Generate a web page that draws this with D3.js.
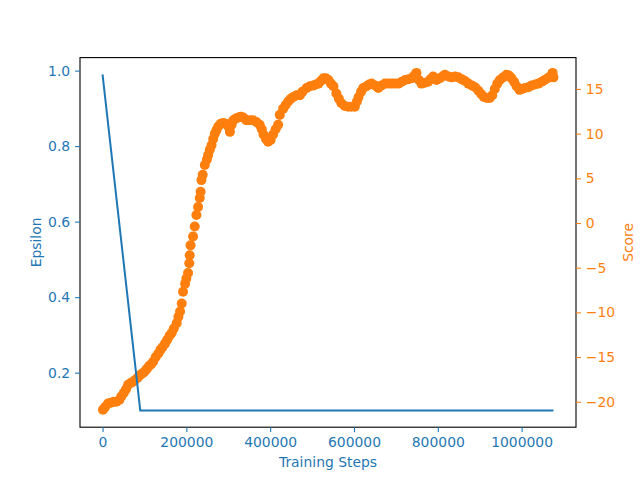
<!DOCTYPE html>
<html lang="en">
<head>
<meta charset="UTF-8">
<title>Epsilon and Score</title>
<script src="https://cdn.jsdelivr.net/npm/d3@7"></script>
<style>
    body { margin: 0; background: #fff; }
    text { font-family: "DejaVu Sans", sans-serif; }
</style>
</head>
<body>
<svg id="chart" width="640" height="480"></svg>
<script>
// epsilon schedule: [step, epsilon]
var epsilonSteps = [0, 90000, 1076000];
var epsilonValues = [0.99, 0.1, 0.1];

// running score: [step, score]
var scorePoints = [
    [1000, -20.9], [6000, -20.6], [13000, -20.2], [20000, -20.1], [27000, -20.0], [33000, -20.0],
    [40000, -19.8], [45000, -19.4], [51000, -19.0], [56000, -18.6], [61000, -18.1], [67000, -17.9],
    [72000, -17.8], [77000, -17.6], [84000, -17.3], [90000, -17.0], [96000, -16.8], [101000, -16.6],
    [106000, -16.3], [111000, -16.0], [116000, -15.8], [121000, -15.5], [127000, -15.0], [133000, -14.6],
    [138000, -14.2], [143000, -13.9], [149000, -13.5], [154000, -13.1], [160000, -12.6], [165000, -12.3],
    [170000, -11.8], [177000, -11.2], [181000, -10.5], [185000, -9.9], [189000, -9.0], [192000, -7.7],
    [197000, -6.8], [200000, -6.2], [204000, -5.6], [207000, -4.5], [208000, -3.6], [210000, -2.5],
    [216000, -1.5], [220000, -0.4], [224000, 0.9], [228000, 1.8], [232000, 2.8], [234000, 3.5],
    [236000, 4.8], [239000, 5.4], [244000, 6.5], [249000, 7.1], [252000, 7.6], [256000, 8.2],
    [260000, 8.7], [264000, 9.4], [268000, 10.0], [272000, 10.4], [276000, 10.8], [282000, 11.1],
    [288000, 11.2], [294000, 11.1], [300000, 10.8], [304000, 10.2], [308000, 11.0], [312000, 11.5],
    [318000, 11.7], [324000, 11.8], [330000, 11.9], [336000, 11.8], [343000, 11.5], [351000, 11.5],
    [359000, 11.5], [367000, 11.3], [375000, 11.0], [380000, 10.5], [384000, 9.9], [390000, 9.4],
    [395000, 9.1], [401000, 9.3], [407000, 9.9], [413000, 10.5], [419000, 11.0], [423000, 12.1],
    [431000, 12.8], [437000, 13.2], [443000, 13.6], [449000, 13.9], [455000, 14.1], [463000, 14.3],
    [471000, 14.3], [477000, 14.7], [487000, 15.1], [495000, 15.3], [503000, 15.4], [509000, 15.5],
    [515000, 15.6], [521000, 15.9], [527000, 16.2], [533000, 16.2], [539000, 16.0], [545000, 15.6],
    [551000, 15.3], [558000, 14.5], [564000, 13.9], [570000, 13.4], [578000, 13.1], [586000, 13.0],
    [594000, 13.0], [602000, 13.0], [607000, 13.6], [611000, 14.1], [617000, 14.7], [622000, 15.1],
    [630000, 15.3], [636000, 15.5], [642000, 15.6], [650000, 15.4], [658000, 15.1], [666000, 15.4],
    [674000, 15.6], [682000, 15.6], [690000, 15.6], [698000, 15.6], [706000, 15.6], [714000, 15.8],
    [722000, 16.0], [730000, 16.1], [738000, 16.2], [744000, 16.5], [749000, 16.8], [755000, 16.0],
    [761000, 15.6], [769000, 15.7], [777000, 15.8], [783000, 16.1], [789000, 16.4], [797000, 16.0],
    [805000, 16.2], [811000, 16.4], [817000, 16.6], [825000, 16.4], [833000, 16.3], [841000, 16.4],
    [849000, 16.3], [857000, 16.1], [865000, 15.9], [873000, 15.6], [881000, 15.4], [889000, 15.2],
    [897000, 14.8], [904000, 14.4], [910000, 14.1], [917000, 14.0], [924000, 14.0], [930000, 14.3],
    [936000, 15.0], [942000, 15.6], [948000, 16.0], [956000, 16.3], [964000, 16.6], [970000, 16.5],
    [976000, 16.2], [982000, 15.8], [988000, 15.3], [995000, 14.9], [1001000, 15.0], [1008000, 15.1],
    [1016000, 15.2], [1024000, 15.4], [1032000, 15.5], [1040000, 15.6], [1048000, 15.8], [1055000, 16.0],
    [1062000, 16.2], [1068000, 16.4], [1074000, 16.8], [1076000, 16.3]
];

var xTicks = [0, 200000, 400000, 600000, 800000, 1000000];
var epsTicks = [0.2, 0.4, 0.6, 0.8, 1.0];
var scoreTicks = [-20, -15, -10, -5, 0, 5, 10, 15];

var blue = "#1f77b4", orange = "#ff7f0e";
var plotLeft = 80, plotRight = 576, plotTop = 57.6, plotBottom = 427.2;

var svg = d3.select("#chart");

// matplotlib style 5% margins
function padded(lo, hi) {
    var m = (hi - lo) * 0.05;
    return [lo - m, hi + m];
}

var x = d3.scaleLinear().domain(padded(0, 1076000)).range([plotLeft, plotRight]);
var yEps = d3.scaleLinear().domain(padded(0.1, 0.99)).range([plotBottom, plotTop]);
var yScore = d3.scaleLinear().domain(padded(-20.97, 16.63)).range([plotBottom, plotTop]);

// score dots (twin axis)
svg.append("g")
    .selectAll("circle")
    .data(scorePoints)
    .enter()
    .append("circle")
    .attr("cx", function(d) { return x(d[0]); })
    .attr("cy", function(d) { return yScore(d[1]); })
    .attr("r", 5)
    .attr("fill", orange);

// epsilon line
var line = d3.line()
    .x(function(d, i) { return x(epsilonSteps[i]); })
    .y(function(d) { return yEps(d); });

svg.append("path")
    .datum(epsilonValues)
    .attr("d", line)
    .attr("fill", "none")
    .attr("stroke", blue)
    .attr("stroke-width", 2);

// frame
svg.append("rect")
    .attr("x", plotLeft).attr("y", plotTop)
    .attr("width", plotRight - plotLeft).attr("height", plotBottom - plotTop)
    .attr("fill", "none").attr("stroke", "#000").attr("stroke-width", 1.1);

function styleAxis(g, color) {
    g.select(".domain").remove();
    g.selectAll(".tick line").attr("stroke", color).attr("stroke-width", 1.1);
    g.selectAll(".tick text").attr("fill", color)
        .style("font-family", "DejaVu Sans").style("font-size", "13.9px");
}

svg.append("g")
    .attr("transform", "translate(0," + plotBottom + ")")
    .call(d3.axisBottom(x).tickValues(xTicks).tickFormat(d3.format("d")).tickSize(4.9).tickPadding(4.9))
    .call(styleAxis, blue);

svg.append("g")
    .attr("transform", "translate(" + plotLeft + ",0)")
    .call(d3.axisLeft(yEps).tickValues(epsTicks).tickFormat(d3.format(".1f")).tickSize(4.9).tickPadding(4.9))
    .call(styleAxis, blue);

svg.append("g")
    .attr("transform", "translate(" + plotRight + ",0)")
    .call(d3.axisRight(yScore).tickValues(scoreTicks).tickFormat(d3.format("d")).tickSize(4.9).tickPadding(4.9))
    .call(styleAxis, orange);

// axis titles
svg.append("text")
    .attr("x", (plotLeft + plotRight) / 2).attr("y", 467)
    .attr("text-anchor", "middle")
    .attr("fill", blue).style("font-size", "13.9px")
    .text("Training Steps");

svg.append("text")
    .attr("transform", "translate(41," + (plotTop + plotBottom) / 2 + ") rotate(-90)")
    .attr("text-anchor", "middle")
    .attr("fill", blue).style("font-size", "13.9px")
    .text("Epsilon");

svg.append("text")
    .attr("transform", "translate(633," + (plotTop + plotBottom) / 2 + ") rotate(-90)")
    .attr("text-anchor", "middle")
    .attr("fill", orange).style("font-size", "13.9px")
    .text("Score");
</script>
</body>
</html>
